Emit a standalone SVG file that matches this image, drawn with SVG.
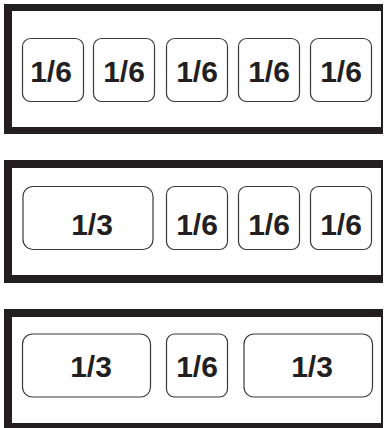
<svg xmlns="http://www.w3.org/2000/svg" width="386" height="428" viewBox="0 0 386 428">
<style>
.frame{fill:#231f20}
.inner{fill:#ffffff}
.box{fill:#ffffff;stroke:#3a3a3a;stroke-width:1.2}
.lbl{font-family:"Liberation Sans",Arial,sans-serif;font-weight:bold;font-size:30px;fill:#231f20;text-anchor:middle}
</style>
<rect width="386" height="428" fill="#ffffff"/>
<g id="frame1">
<rect class="frame" x="4" y="4" width="379" height="130"/>
<rect class="inner" x="12" y="11" width="369" height="116"/>
</g>
<g id="frame2">
<rect class="frame" x="4" y="160" width="379" height="123"/>
<rect class="inner" x="12" y="168" width="369" height="107"/>
</g>
<g id="frame3">
<rect class="frame" x="4" y="309" width="379" height="119"/>
<rect class="inner" x="12" y="317" width="369" height="106"/>
</g>
<g id="r1b1"><rect class="box" x="22.5" y="38.5" width="61" height="63" rx="8"/><text class="lbl" x="51" y="82">1/6</text></g>
<g id="r1b2"><rect class="box" x="93.5" y="38.5" width="61" height="63" rx="8"/><text class="lbl" x="124" y="82">1/6</text></g>
<g id="r1b3"><rect class="box" x="166.5" y="38.5" width="61" height="63" rx="8"/><text class="lbl" x="197" y="82">1/6</text></g>
<g id="r1b4"><rect class="box" x="238.5" y="38.5" width="61" height="63" rx="8"/><text class="lbl" x="269" y="82">1/6</text></g>
<g id="r1b5"><rect class="box" x="310.5" y="38.5" width="61" height="63" rx="8"/><text class="lbl" x="341" y="82">1/6</text></g>
<g id="r2b1"><rect class="box" x="23" y="186.5" width="130" height="63" rx="10"/><text class="lbl" x="92" y="235">1/3</text></g>
<g id="r2b2"><rect class="box" x="166.5" y="186.5" width="61" height="63" rx="8"/><text class="lbl" x="197" y="235">1/6</text></g>
<g id="r2b3"><rect class="box" x="238.5" y="186.5" width="61" height="63" rx="8"/><text class="lbl" x="269" y="235">1/6</text></g>
<g id="r2b4"><rect class="box" x="310.5" y="186.5" width="61" height="63" rx="8"/><text class="lbl" x="341" y="235">1/6</text></g>
<g id="r3b1"><rect class="box" x="22.5" y="334" width="128" height="63" rx="10"/><text class="lbl" x="91" y="377">1/3</text></g>
<g id="r3b2"><rect class="box" x="166.5" y="334" width="61" height="63" rx="8"/><text class="lbl" x="197" y="377">1/6</text></g>
<g id="r3b3"><rect class="box" x="244" y="334" width="128.5" height="63" rx="10"/><text class="lbl" x="312" y="377">1/3</text></g>
</svg>
